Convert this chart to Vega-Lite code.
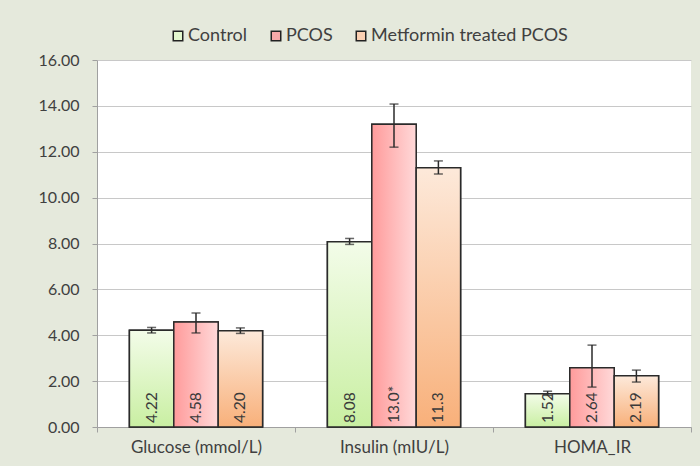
{
  "$schema": "https://vega.github.io/schema/vega-lite/v6.json",
  "width": 594,
  "height": 367,
  "autosize": {"type": "none"},
  "padding": {"left": 97, "top": 60, "right": 9, "bottom": 39},
  "background": "#e5e9dc",
  "config": {
    "font": "Lato",
    "view": {"fill": "white", "stroke": null},
    "axis": {"labelFont": "Lato", "labelColor": "#404040", "labelFontSize": 16, "domainColor": "#a0a0a0", "tickColor": "#a0a0a0", "gridColor": "#c8c8c8", "title": null}
  },
  "data": {
    "values": [
      {"test": "Glucose (mmol/L)", "group": "Control", "value": 4.22, "lo": 4.1, "hi": 4.34, "label": "4.22"},
      {"test": "Glucose (mmol/L)", "group": "PCOS", "value": 4.58, "lo": 4.1, "hi": 4.97, "label": "4.58"},
      {"test": "Glucose (mmol/L)", "group": "Metformin treated PCOS", "value": 4.2, "lo": 4.08, "hi": 4.32, "label": "4.20"},
      {"test": "Insulin (mIU/L)", "group": "Control", "value": 8.08, "lo": 7.96, "hi": 8.22, "label": "8.08"},
      {"test": "Insulin (mIU/L)", "group": "PCOS", "value": 13.2, "lo": 12.2, "hi": 14.08, "label": "13.0*"},
      {"test": "Insulin (mIU/L)", "group": "Metformin treated PCOS", "value": 11.3, "lo": 11.03, "hi": 11.6, "label": "11.3"},
      {"test": "HOMA_IR", "group": "Control", "value": 1.45, "lo": 1.38, "hi": 1.56, "label": "1.52"},
      {"test": "HOMA_IR", "group": "PCOS", "value": 2.58, "lo": 1.74, "hi": 3.57, "label": "2.64"},
      {"test": "HOMA_IR", "group": "Metformin treated PCOS", "value": 2.23, "lo": 1.96, "hi": 2.48, "label": "2.19"}
    ]
  },
  "encoding": {
    "x": {"field": "test", "type": "nominal", "sort": ["Glucose (mmol/L)", "Insulin (mIU/L)", "HOMA_IR"], "scale": {"paddingInner": 0, "paddingOuter": 0},
      "axis": {"labelAngle": 0, "tickBand": "extent", "tickSize": 5, "labelPadding": 7, "labelFontSize": 17}},
    "xOffset": {"field": "group", "type": "nominal", "sort": ["Control", "PCOS", "Metformin treated PCOS"], "scale": {"paddingInner": 0, "paddingOuter": 0.73}}
  },
  "layer": [
    {
      "mark": {"type": "bar", "stroke": "#2a2a2a", "strokeWidth": 1.5},
      "encoding": {
        "y": {"field": "value", "type": "quantitative", "scale": {"domain": [0, 16]},
          "axis": {"values": [0, 2, 4, 6, 8, 10, 12, 14, 16], "format": ".2f", "tickSize": 5, "labelPadding": 13, "grid": true}},
        "color": {"field": "group", "type": "nominal", "sort": ["Control", "PCOS", "Metformin treated PCOS"],
          "scale": {"domain": ["Control", "PCOS", "Metformin treated PCOS"], "range": ["#e4f8cf", "#f7a9a9", "#fbd0b2"]},
          "legend": {"title": null, "orient": "none", "legendX": 72, "legendY": -33, "direction": "horizontal", "columns": 3,
            "symbolType": "square", "symbolSize": 90, "symbolStrokeColor": "#222", "symbolStrokeWidth": 1.5,
            "labelFontSize": 18, "labelColor": "#404040", "labelFont": "Lato", "labelLimit": 400, "columnPadding": 19, "labelOffset": 1}}
      }
    },
    {
      "transform": [{"filter": "datum.group === 'Control'"}],
      "mark": {"type": "bar", "stroke": "#2a2a2a", "strokeWidth": 1.5,
        "fill": {"gradient": "linear", "x1": 0, "y1": 0, "x2": 0, "y2": 1, "stops": [{"offset": 0, "color": "#f3fce9"}, {"offset": 1, "color": "#c9efa2"}]}},
      "encoding": {"y": {"field": "value", "type": "quantitative"}}
    },
    {
      "transform": [{"filter": "datum.group === 'PCOS'"}],
      "mark": {"type": "bar", "stroke": "#2a2a2a", "strokeWidth": 1.5,
        "fill": {"gradient": "linear", "x1": 0, "y1": 0, "x2": 1, "y2": 0, "stops": [{"offset": 0, "color": "#ff9b9b"}, {"offset": 1, "color": "#ffd9d9"}]}},
      "encoding": {"y": {"field": "value", "type": "quantitative"}}
    },
    {
      "transform": [{"filter": "datum.group === 'Metformin treated PCOS'"}],
      "mark": {"type": "bar", "stroke": "#2a2a2a", "strokeWidth": 1.5,
        "fill": {"gradient": "linear", "x1": 0, "y1": 0, "x2": 0, "y2": 1, "stops": [{"offset": 0, "color": "#fde9da"}, {"offset": 1, "color": "#f8b07a"}]}},
      "encoding": {"y": {"field": "value", "type": "quantitative"}}
    },
    {
      "mark": {"type": "rule", "color": "#2a2a2a", "strokeWidth": 1.5},
      "encoding": {"y": {"field": "lo", "type": "quantitative"}, "y2": {"field": "hi"}}
    },
    {
      "mark": {"type": "tick", "color": "#2a2a2a", "thickness": 1.5, "size": 9, "orient": "horizontal"},
      "encoding": {"y": {"field": "lo", "type": "quantitative"}}
    },
    {
      "mark": {"type": "tick", "color": "#2a2a2a", "thickness": 1.5, "size": 9, "orient": "horizontal"},
      "encoding": {"y": {"field": "hi", "type": "quantitative"}}
    },
    {
      "mark": {"type": "text", "angle": 270, "align": "left", "baseline": "middle", "dx": 4, "fontSize": 15.5, "color": "#3a3a3a", "font": "Lato"},
      "encoding": {"y": {"datum": 0, "type": "quantitative"}, "text": {"field": "label"}}
    }
  ]
}
